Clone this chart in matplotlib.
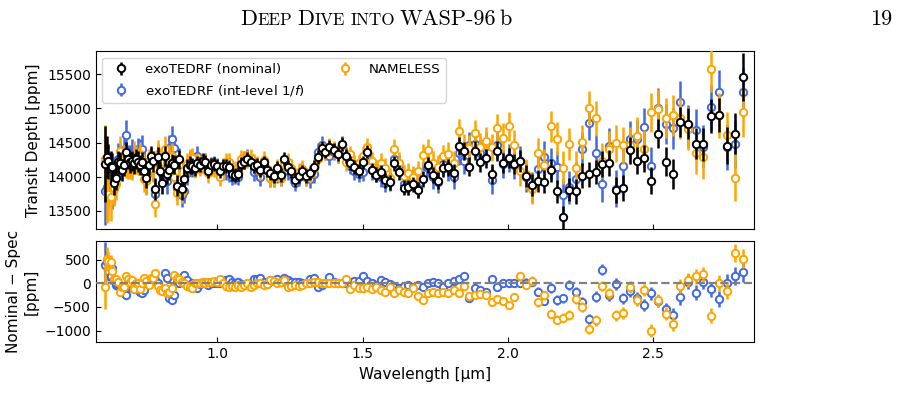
import numpy as np
import matplotlib
matplotlib.use('Agg')
import matplotlib.pyplot as plt

# Wavelength grid of the binned spectrum (micron)
wavelength = [
    0.613, 0.619, 0.625, 0.632, 0.638, 0.644, 0.651, 0.657, 0.664, 0.670,
    0.677, 0.684, 0.691, 0.698, 0.705, 0.712, 0.719, 0.726, 0.733, 0.741,
    0.748, 0.755, 0.763, 0.771, 0.778, 0.786, 0.794, 0.802, 0.810, 0.818,
    0.826, 0.834, 0.843, 0.851, 0.860, 0.868, 0.877, 0.886, 0.895, 0.904,
    0.913, 0.922, 0.931, 0.940, 0.950, 0.959, 0.969, 0.979, 0.988, 0.998,
    1.008, 1.018, 1.028, 1.039, 1.049, 1.060, 1.070, 1.081, 1.092, 1.103,
    1.114, 1.125, 1.136, 1.147, 1.159, 1.170, 1.182, 1.194, 1.206, 1.218,
    1.230, 1.242, 1.255, 1.267, 1.280, 1.293, 1.306, 1.319, 1.332, 1.345,
    1.359, 1.372, 1.386, 1.400, 1.414, 1.428, 1.442, 1.457, 1.471, 1.486,
    1.501, 1.516, 1.531, 1.546, 1.562, 1.577, 1.593, 1.609, 1.625, 1.641,
    1.658, 1.674, 1.691, 1.708, 1.725, 1.742, 1.760, 1.777, 1.795, 1.813,
    1.831, 1.849, 1.868, 1.887, 1.905, 1.924, 1.944, 1.963, 1.983, 2.003,
    2.023, 2.043, 2.063, 2.084, 2.105, 2.126, 2.147, 2.169, 2.190, 2.212,
    2.234, 2.257, 2.279, 2.302, 2.325, 2.348, 2.372, 2.396, 2.420, 2.444,
    2.468, 2.493, 2.518, 2.543, 2.569, 2.594, 2.620, 2.647, 2.673, 2.700,
    2.727, 2.754, 2.782, 2.810]

# exoTEDRF (nominal) transit depth (ppm)
depth_nominal = [
    14185, 14292, 14224, 14150, 14146, 13913, 13981, 14209, 14200, 14097,
    14175, 14355, 14258, 14209, 14233, 14194, 14258, 14220, 14175, 14209,
    14078, 13981, 14175, 14306, 14224, 13820, 14282, 14078, 13903, 14306,
    14039, 14097, 14194, 14175, 13869, 14258, 13815, 13966, 14126, 14175,
    14160, 14126, 14194, 14175, 14233, 14209, 14087, 14175, 14185, 14160,
    14078, 14160, 14160, 14146, 14039, 14029, 14039, 14185, 14209, 14258,
    14209, 14160, 14175, 14097, 14209, 14097, 14049, 14015, 14126, 14024,
    14258, 14146, 14078, 13951, 14015, 14078, 14015, 14049, 14146, 14292,
    14428, 14369, 14437, 14389, 14331, 14477, 14306, 14199, 14146, 14087,
    14209, 14369, 14097, 14029, 14063, 13951, 13917, 14194, 14063, 13835,
    13844, 13893, 13806, 13966, 14175, 14029, 13942, 14121, 14136, 14053,
    14452, 14379, 14146, 14379, 14209, 14272, 14039, 14379, 14200, 14275,
    14185, 14228, 14010, 13880, 13935, 13925, 14095, 13786, 13407, 13810,
    13786, 14015, 14035, 14068, 14180, 14199, 13810, 13830, 14389, 14233,
    14267, 13942, 14631, 14219, 14044, 14802, 14777, 14486, 14477, 14889,
    14900, 14452, 14631, 15462]

# Nominal - int-level 1/f spectrum (ppm)
resid_intlevel = [
    392, 442, 250, 143, 321, 71, -36, -50, -57, -107,
    -214, -250, 0, -50, -107, -71, 0, -143, -180, -200,
    -143, 36, 71, 80, 86, 71, 0, -107, -143, 214,
    107, -321, -357, -250, 36, 14, 86, 178, 71, -36,
    0, -71, -107, -14, 36, 0, -36, 14, 14, 10,
    0, 71, 71, 86, 36, 0, 36, -14, -36, -20,
    0, 86, 90, 107, 36, -14, 71, 40, 86, 36,
    107, 60, 36, 36, 20, 0, 14, 86, 107, -71,
    -36, 0, 128, 20, 0, 10, 0, 36, 57, 40,
    143, 57, 0, -36, 71, 36, -14, -71, -107, -60,
    -36, -71, -36, -86, 14, 36, 14, -71, 14, 57,
    100, 150, -320, -107, -143, -178, 86, -86, 14, 0,
    14, 0, 14, 36, -179, -371, -100, -357, -321, -36,
    -179, -393, -757, -286, 286, -250, -14, -321, -164, -321,
    -464, -214, -378, -550, -664, -300, 36, -200, 36, -129,
    -336, 14, 157, 228]

# Nominal - NAMELESS spectrum (ppm)
resid_nameless = [
    -71, 513, 470, 442, 250, 85, 85, 35, -178, -71,
    -71, 157, 85, 35, 71, -128, 14, 0, -128, 14,
    107, 50, -36, 107, 107, 214, -57, -143, -157, -107,
    -214, -178, -107, 178, 107, 86, 36, 0, -57, -71,
    -107, 0, 0, 14, 36, 14, 36, 36, 57, 36,
    85, 14, -57, -71, -57, -71, -36, -71, -36, 0,
    -71, -36, 0, 14, -36, -20, 71, 40, 0, 36,
    71, -71, -50, -30, -57, -36, 14, 14, 20, 36,
    14, 0, 0, 0, 0, 14, 85, -128, -36, -107,
    -100, -71, -128, -71, -143, -178, -71, -214, -143, -180,
    -214, -107, -271, -357, -214, -178, -200, -178, -200, -143,
    -214, -50, -271, -257, -228, -250, -393, -336, -371, -464,
    -286, 143, -36, 57, -407, -250, -643, -771, -728, -671,
    -336, -500, -971, -785, -57, -214, -678, -628, -71, -357,
    -143, -1000, -357, -643, -857, -57, 71, 143, 193, -685,
    0, -157, 643, 514]

# Error bars (ppm)
err_nominal = [
    560, 300, 260, 230, 200, 180, 170, 170, 160, 160,
    160, 160, 150, 150, 150, 150, 150, 150, 150, 150,
    150, 150, 150, 150, 150, 160, 150, 150, 160, 150,
    150, 140, 140, 140, 150, 140, 150, 140, 130, 130,
    120, 120, 110, 110, 110, 110, 100, 100, 100, 100,
    100, 100, 100, 100, 100, 100, 100, 100, 100, 100,
    100, 100, 100, 100, 100, 100, 100, 100, 100, 100,
    100, 100, 100, 100, 100, 100, 100, 100, 100, 100,
    100, 100, 100, 100, 100, 100, 100, 100, 100, 100,
    100, 100, 100, 110, 110, 110, 110, 110, 110, 110,
    110, 110, 120, 120, 120, 120, 120, 130, 130, 130,
    130, 130, 140, 140, 140, 140, 150, 150, 150, 150,
    150, 160, 160, 160, 160, 170, 170, 170, 170, 170,
    180, 180, 180, 180, 190, 190, 190, 190, 200, 200,
    200, 200, 210, 210, 220, 220, 230, 230, 240, 250,
    250, 270, 300, 350]

err_spec = [
    500, 450, 400, 350, 300, 260, 240, 230, 220, 220,
    220, 220, 210, 210, 210, 200, 200, 200, 200, 200,
    200, 200, 200, 200, 200, 200, 200, 200, 200, 190,
    190, 190, 190, 180, 180, 180, 170, 170, 170, 160,
    160, 150, 150, 150, 140, 140, 140, 130, 130, 130,
    130, 130, 130, 130, 130, 130, 130, 130, 130, 130,
    130, 130, 130, 130, 130, 130, 130, 130, 130, 130,
    130, 130, 130, 130, 130, 130, 130, 130, 130, 130,
    130, 130, 130, 130, 130, 130, 130, 130, 130, 130,
    130, 130, 140, 140, 140, 140, 140, 150, 150, 150,
    150, 150, 160, 160, 160, 170, 170, 170, 180, 180,
    180, 190, 190, 190, 200, 200, 200, 210, 210, 210,
    210, 220, 220, 220, 230, 230, 230, 240, 240, 240,
    250, 250, 250, 260, 260, 260, 270, 270, 270, 280,
    280, 280, 290, 290, 300, 300, 310, 310, 320, 330,
    330, 340, 350, 360]

err_resid = [
    480, 250, 200, 150, 120, 100, 90, 90, 80, 80,
    80, 80, 80, 80, 80, 80, 80, 80, 80, 80,
    80, 70, 70, 70, 70, 70, 70, 70, 70, 70,
    70, 70, 70, 70, 60, 60, 60, 60, 60, 60,
    50, 50, 50, 50, 50, 50, 50, 50, 50, 50,
    45, 45, 45, 45, 45, 45, 45, 45, 45, 45,
    45, 45, 45, 45, 45, 45, 45, 45, 45, 45,
    45, 45, 45, 45, 45, 45, 45, 45, 45, 45,
    45, 45, 45, 45, 45, 45, 45, 45, 45, 45,
    45, 45, 50, 50, 50, 50, 50, 50, 55, 55,
    55, 55, 60, 60, 60, 60, 65, 65, 65, 70,
    70, 70, 70, 75, 75, 75, 80, 80, 80, 85,
    85, 90, 90, 90, 95, 95, 100, 100, 100, 105,
    105, 110, 110, 115, 115, 120, 120, 125, 125, 130,
    130, 135, 135, 140, 145, 150, 150, 155, 160, 165,
    170, 180, 190, 200]

labels = ['exoTEDRF (nominal)', 'exoTEDRF (int-level 1/$f$)', 'NAMELESS']
colors = ['black', 'royalblue', 'orange']

wl = np.array(wavelength)
nominal = np.array(depth_nominal)
# the comparison spectra, nominal minus residual
intlevel = nominal - np.array(resid_intlevel)
nameless = nominal - np.array(resid_nameless)

fig = plt.figure(figsize=(8.97, 4.09), dpi=100)
ax1 = fig.add_axes([0.1067, 0.4394, 0.7343, 0.4356])
ax2 = fig.add_axes([0.1067, 0.163, 0.7343, 0.2485], sharex=ax1)

style = dict(fmt='o', mfc='white', ms=5.3, mew=1.4, elinewidth=1.8, capsize=0)

h_int = ax1.errorbar(wl, intlevel, yerr=err_spec, color=colors[1], zorder=2, **style)
h_nl = ax1.errorbar(wl, nameless, yerr=err_spec, color=colors[2], zorder=3, **style)
h_nom = ax1.errorbar(wl, nominal, yerr=err_nominal, color=colors[0], zorder=4, **style)

ax1.legend([h_nom, h_int, h_nl], labels, ncol=2, loc='upper left', fontsize=9.6)
ax1.set_ylabel('Transit Depth [ppm]', fontsize=11)
ax1.set_ylim(13230, 15840)
ax1.set_yticks([13500, 14000, 14500, 15000, 15500])
ax1.tick_params(direction='in', labelsize=10, labelbottom=False)

# bottom panel: residuals
ax2.errorbar(wl, resid_intlevel, yerr=err_resid, color=colors[1], zorder=2, **style)
ax2.errorbar(wl, resid_nameless, yerr=err_resid, color=colors[2], zorder=3, **style)
ax2.axhline(0, color='grey', ls='--', lw=1.6, zorder=5)
ax2.set_ylim(-1250, 900)
ax2.set_yticks([-1000, -500, 0, 500])
ax2.set_xlim(0.581, 2.849)
ax2.set_xticks([1.0, 1.5, 2.0, 2.5])
ax2.tick_params(direction='in', labelsize=10)
ax2.set_xlabel('Wavelength [μm]', fontsize=11)
ax2.set_ylabel('Nominal − Spec\n[ppm]', fontsize=11)
fig.align_ylabels([ax1, ax2])

# page header in small caps
renderer = fig.canvas.get_renderer()
W = fig.bbox.width
big, small = 16, 12.3
parts = [('D', big, 0.5), ('EEP', small, 5), ('D', big, 0.5), ('IVE', small, 5),
         ('INTO', small, 5), ('WASP-96', big, 3), ('b', big, 0)]
items = []
x = 0
for s, size, gap in parts:
    t = fig.text(0, 0.939, s, fontsize=size, family='cmr10', ha='left', va='baseline')
    w = t.get_window_extent(renderer).width
    items.append((t, x))
    x += w + gap
x0 = 376 - x / 2
for t, off in items:
    t.set_x((x0 + off) / W)
fig.text(892 / W, 0.939, '19', fontsize=big, family='cmr10', ha='right', va='baseline')

plt.savefig('out.png', dpi=100)
